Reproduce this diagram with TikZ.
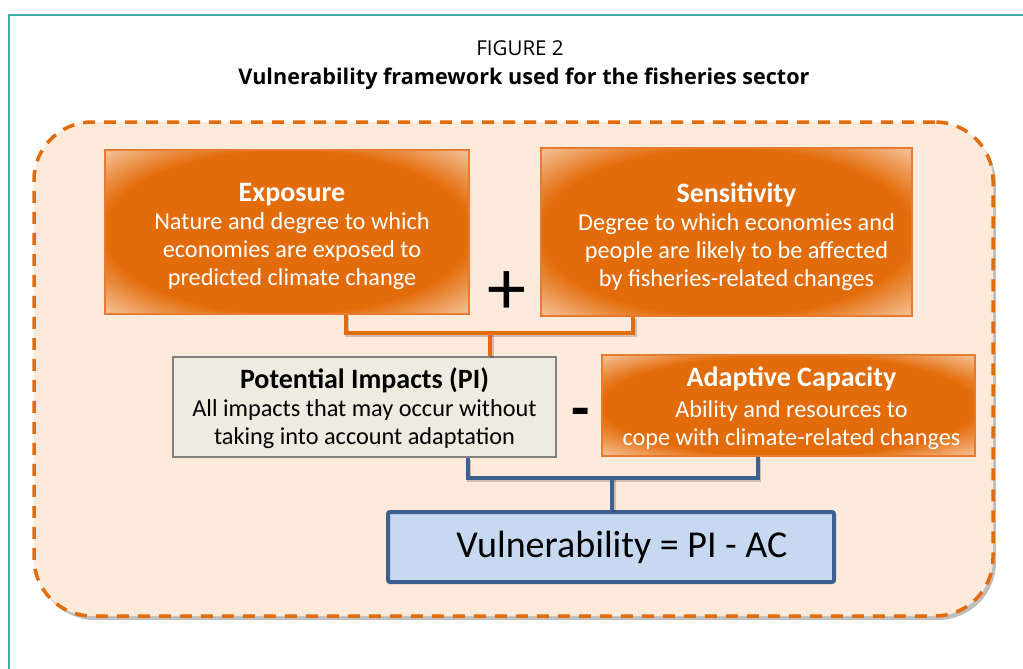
\documentclass[tikz,border=0pt]{standalone}
\usepackage{fontspec}
\setmainfont{Carlito}
\newfontfamily\headfont{Open Sans}
\usetikzlibrary{shadows,calc}
\definecolor{oc}{HTML}{E36C0A}
\definecolor{ol}{HTML}{F6C49C}
\definecolor{oborder}{HTML}{E97B30}
\definecolor{peach}{HTML}{FDEADB}
\definecolor{frameteal}{HTML}{3FAEA8}
\definecolor{pifill}{HTML}{EEECE1}
\definecolor{pidraw}{HTML}{808080}
\definecolor{vfill}{HTML}{C6D9F1}
\definecolor{vdraw}{HTML}{3B6091}
\pgfdeclareradialshading{glow}{\pgfpoint{0bp}{0bp}}{color(0bp)=(oc); color(25bp)=(oc); color(35.4bp)=(ol); color(50bp)=(ol)}
\newcommand{\ttlfont}{\bfseries\fontsize{28}{28}\selectfont}
\newcommand{\bodyfont}{\fontsize{24.3}{28}\selectfont}
\tikzset{
  obox/.style={shade, shading=glow, draw=oborder, line width=2pt, inner sep=0pt},
  btext/.style={align=center, inner sep=0pt, font=\bodyfont},
  oline/.style={draw=oc, line width=4pt,
    preaction={draw=black, opacity=.18, line width=4pt, transform canvas={xshift=1.5pt,yshift=-2pt}}},
  bline/.style={draw=vdraw, line width=4pt,
    preaction={draw=black, opacity=.18, line width=4pt, transform canvas={xshift=1.5pt,yshift=-2pt}}},
}
\begin{document}
\begin{tikzpicture}[x=1pt,y=-1pt]
\useasboundingbox[fill=white] (0,0) rectangle (1023,669);
\draw[frameteal, line width=1.5pt] (9,669) -- (9,15) -- (1023,15);

\node[font=\headfont\fontsize{20.5}{22}\selectfont] (fig) at (520,48) {FIGURE 2};
\node[font=\headfont\bfseries\fontsize{21.6}{24}\selectfont] (ttl) at (524,79) {Vulnerability framework used for the fisheries sector};

\node[draw=oc, fill=peach, line width=3.5pt, dash pattern=on 12pt off 9pt,
      rounded corners=58pt, minimum width=959pt, minimum height=494pt,
      drop shadow={shadow xshift=3pt, shadow yshift=-4pt, opacity=.25, fill=black}]
      (frame) at (513.5,369) {};

\coordinate (j1) at (490,333);
\coordinate (j2) at (612,478);

\node[obox, minimum width=364pt, minimum height=164pt] (expo) at (287,232) {};
\node[obox, minimum width=371pt, minimum height=168pt] (sens) at (726.5,232) {};
\node[draw=pidraw, fill=pifill, line width=2.5pt, inner sep=0pt,
      minimum width=383pt, minimum height=100pt] (pi) at (364.5,407) {};
\node[obox, minimum width=373pt, minimum height=101pt] (ac) at (788.5,405.5) {};
\node[draw=vdraw, fill=vfill, line width=4pt, rounded corners=2pt, inner sep=0pt,
      minimum width=446pt, minimum height=70pt] (vul) at (611,547) {};

\node[btext, text=white] (expo-t) at ([xshift=5pt,yshift=-5pt]expo.center)
  {{\ttlfont Exposure}\\Nature and degree to which\\economies are exposed to\\predicted climate change};
\node[btext, text=white] (sens-t) at ([xshift=10pt,yshift=-5pt]sens.center)
  {{\ttlfont Sensitivity}\\Degree to which economies and\\people are likely to be affected\\by fisheries-related changes};
\node[btext] (pi-t) at ([yshift=-1pt]pi.center)
  {{\ttlfont Potential Impacts (PI)}\\All impacts that may occur without\\taking into account adaptation};
\node[btext, text=white] (ac-t) at ([xshift=3pt,yshift=-3pt]ac.center)
  {{\ttlfont Adaptive Capacity}\\[3pt]Ability and resources to\\cope with climate-related changes};
\node[font=\fontsize{38}{40}\selectfont, inner sep=0pt] (vul-t) at ([xshift=11pt]vul.center)
  {Vulnerability = PI - AC};

\draw[oline] ($(expo.south west)!0.66!(expo.south east)$) |- (j1) -| ($(sens.south west)!0.25!(sens.south east)$);
\draw[oline] (j1) -- (j1 |- pi.north);
\draw[bline] ($(pi.south west)!0.768!(pi.south east)$) |- (j2) -| ($(ac.south west)!0.418!(ac.south east)$);
\draw[bline] (j2) -- (j2 |- vul.north);

\node[font=\fontsize{78}{78}\selectfont] (plus) at (507,293) {+};
\node[font=\bfseries\fontsize{60}{60}\selectfont] (minus) at (581,418) {-};
\end{tikzpicture}
\end{document}
